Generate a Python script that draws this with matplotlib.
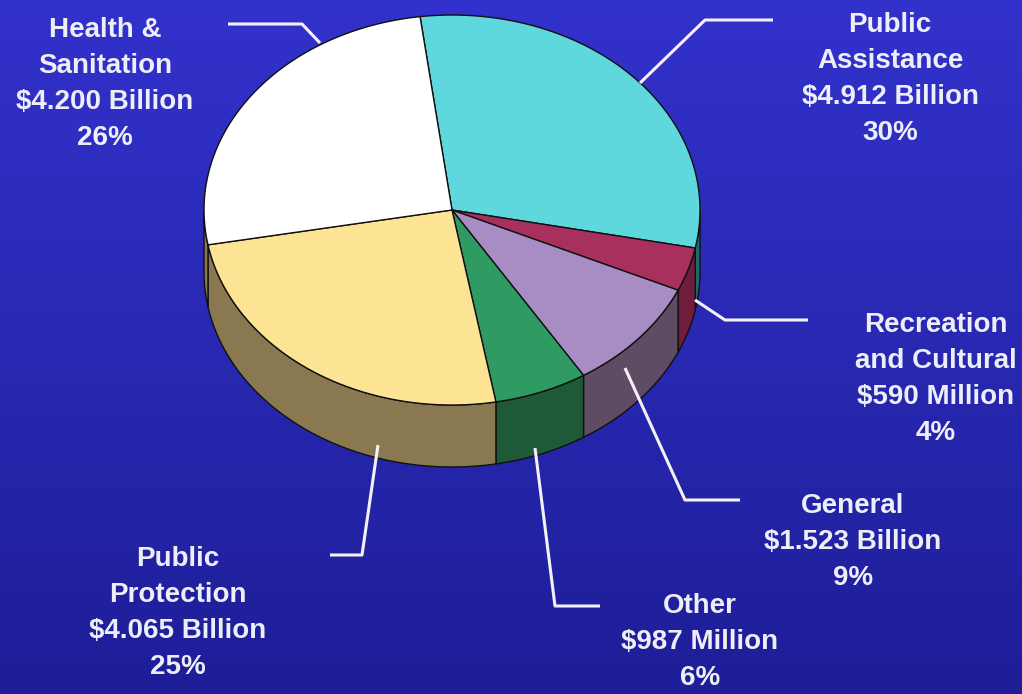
import numpy as np
import matplotlib.pyplot as plt
from matplotlib.patches import Polygon

# budget categories, clockwise from the top of the pie
categories = ['Public\nAssistance', 'Recreation\nand Cultural', 'General',
              'Other', 'Public\nProtection', 'Health &\nSanitation']
amounts = [4.912, 0.590, 1.523, 0.987, 4.065, 4.200]  # billions
amount_labels = ['$4.912 Billion', '$590 Million', '$1.523 Billion',
                 '$987 Million', '$4.065 Billion', '$4.200 Billion']
percent_labels = ['30%', '4%', '9%', '6%', '25%', '26%']

top_colors = ['#5ed8dc', '#a8305e', '#a88cc4', '#2f9a62', '#fde494', '#ffffff']
side_colors = ['#1f6a6a', '#701c3c', '#5e4c64', '#1e5a38', '#8a7850', '#8a7850']

# pie geometry in pixel space
cx, cy = 452, 210
rx, ry = 248, 195
depth = 62
start_deg = 97.4

# label layout: text centre and leader line path
label_pos = [(890, 79), (936, 379), (853, 542), (700, 642), (178, 613), (105, 84)]
leaders = [
    [(640, 83), (705, 20), (773, 20)],
    [(695, 300), (725, 320), (808, 320)],
    [(625, 368), (685, 500), (740, 500)],
    [(535, 448), (555, 606), (600, 606)],
    [(378, 445), (362, 555), (330, 555)],
    [(320, 43), (302, 24), (228, 24)],
]


def ellipse_pts(t1, t2, dy=0, n=80):
    t = np.radians(np.linspace(t1, t2, n))
    return np.column_stack([cx + rx * np.cos(t), cy - ry * np.sin(t) + dy])


fig = plt.figure(figsize=(10.22, 6.94), dpi=100)
ax = fig.add_axes([0, 0, 1, 1])
ax.set_xlim(0, 1022)
ax.set_ylim(694, 0)
ax.axis('off')

# blue background gradient
grad = np.linspace(0, 1, 256)[:, None]
top_rgb = np.array([0x32, 0x32, 0xcc]) / 255
bot_rgb = np.array([0x1e, 0x1e, 0x98]) / 255
bg = top_rgb + (bot_rgb - top_rgb) * grad[..., None]
bg = np.repeat(bg, 2, axis=1)
ax.imshow(bg, extent=[0, 1022, 694, 0], aspect='auto', zorder=0)

fractions = np.array(amounts) / sum(amounts)
edges = start_deg - np.concatenate([[0], np.cumsum(fractions) * 360])

# side walls: only the front half (angles between -180 and 0) is visible
for i in range(len(amounts)):
    a1, a2 = edges[i], edges[i + 1]  # a1 > a2, clockwise
    for shift in (0, -360, 360):
        lo = max(a2 + shift, -180)
        hi = min(a1 + shift, 0)
        if hi > lo:
            top = ellipse_pts(hi, lo)
            bot = ellipse_pts(lo, hi, dy=depth)
            ax.add_patch(Polygon(np.vstack([top, bot]), closed=True,
                                 facecolor=side_colors[i], edgecolor='#101010',
                                 lw=1.0, zorder=2))

# top faces
for i in range(len(amounts)):
    arc = ellipse_pts(edges[i], edges[i + 1])
    pts = np.vstack([[cx, cy], arc])
    ax.add_patch(Polygon(pts, closed=True, facecolor=top_colors[i],
                         edgecolor='#101010', lw=1.0, zorder=3))

# leader lines and labels
for i in range(len(amounts)):
    xs, ys = zip(*leaders[i])
    ax.plot(xs, ys, color='#f4f0f8', lw=2.2, zorder=4, solid_capstyle='butt')
    txt = f'{categories[i]}\n{amount_labels[i]}\n{percent_labels[i]}'
    ax.text(label_pos[i][0], label_pos[i][1], txt, ha='center', va='center',
            fontsize=20, fontweight='bold', family='Liberation Sans',
            color='#eeeef8', linespacing=1.5, zorder=5)

fig.savefig('out.png', dpi=100)
